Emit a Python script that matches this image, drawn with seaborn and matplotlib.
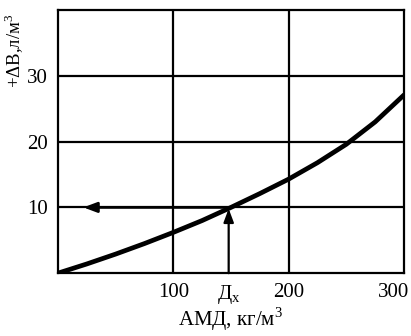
import matplotlib
matplotlib.use("Agg")
from matplotlib import pyplot as plt
from matplotlib import transforms
import pandas as pd
import seaborn as sns

# curve
amd = [0, 25, 50, 75, 100, 125, 150, 175, 200, 225, 250, 275, 300]
dv = [0, 1.4, 2.9, 4.5, 6.2, 8.0, 10.0, 12.1, 14.3, 16.8, 19.6, 23.0, 27.1]

x_ticks = [100, 148, 200, 300]
x_tick_labels = ["100", "Д$_\\mathregular{x}$", "200", "300"]
y_ticks = [10, 20, 30]
dx = 148
dv_x = 10

data = pd.DataFrame({"amd": amd, "dv": dv})

sns.set_style("white")
plt.rcParams["font.family"] = ["Liberation Serif", "DejaVu Serif"]
plt.rcParams["mathtext.fontset"] = "custom"
plt.rcParams["mathtext.rm"] = "Liberation Serif"

fig = plt.figure(figsize=(4.11, 3.36), dpi=100)
ax = fig.add_axes([0.141, 0.187, 0.842, 0.783])

# grid lines
for gx in [100, 200]:
    ax.axvline(gx, color="black", lw=1.6, zorder=1)
for gy in y_ticks:
    ax.axhline(gy, color="black", lw=1.6, zorder=1)

g = sns.lineplot(data=data, x="amd", y="dv", color="black", lw=3.4, ax=ax, zorder=3,
                 solid_joinstyle="round")

# arrows
ax.annotate("", xy=(22, dv_x), xytext=(dx, dv_x),
            arrowprops=dict(arrowstyle="-|>,head_length=0.8,head_width=0.3",
                            color="black", lw=2.0, shrinkA=0, shrinkB=0), zorder=4)
ax.annotate("", xy=(dx, 9.8), xytext=(dx, 0),
            arrowprops=dict(arrowstyle="-|>,head_length=0.8,head_width=0.3",
                            color="black", lw=1.6, shrinkA=0, shrinkB=0), zorder=4)

ax.set_xlim(0, 300)
ax.set_ylim(0, 40)
ax.set_xticks(x_ticks)
ax.set_xticklabels(x_tick_labels)
ax.set_yticks(y_ticks)
ax.tick_params(axis="both", labelsize=15, direction="out", length=6, width=1.5,
               color="black", pad=1, labelcolor="black")
ax.xaxis.get_major_ticks()[1].tick1line.set_visible(False)

# shift last x label a bit left, it is cut at the picture edge
last = ax.get_xticklabels()[-1]
last.set_transform(last.get_transform() + transforms.ScaledTranslation(-0.10, 0, fig.dpi_scale_trans))

for s in ax.spines.values():
    s.set_color("black")
    s.set_linewidth(1.6)

ax.set_xlabel("АМД, кг/м$^\\mathregular{3}$", fontsize=15, color="black", labelpad=0)
ax.set_ylabel("+ΔB,л/м$^\\mathregular{3}$", fontsize=13.5, color="black")
ax.yaxis.set_label_coords(-0.092, 0.845)

path = "out.png"
plt.savefig(path, dpi=100)
print(f"Saved figure to {path}.")
plt.close()
